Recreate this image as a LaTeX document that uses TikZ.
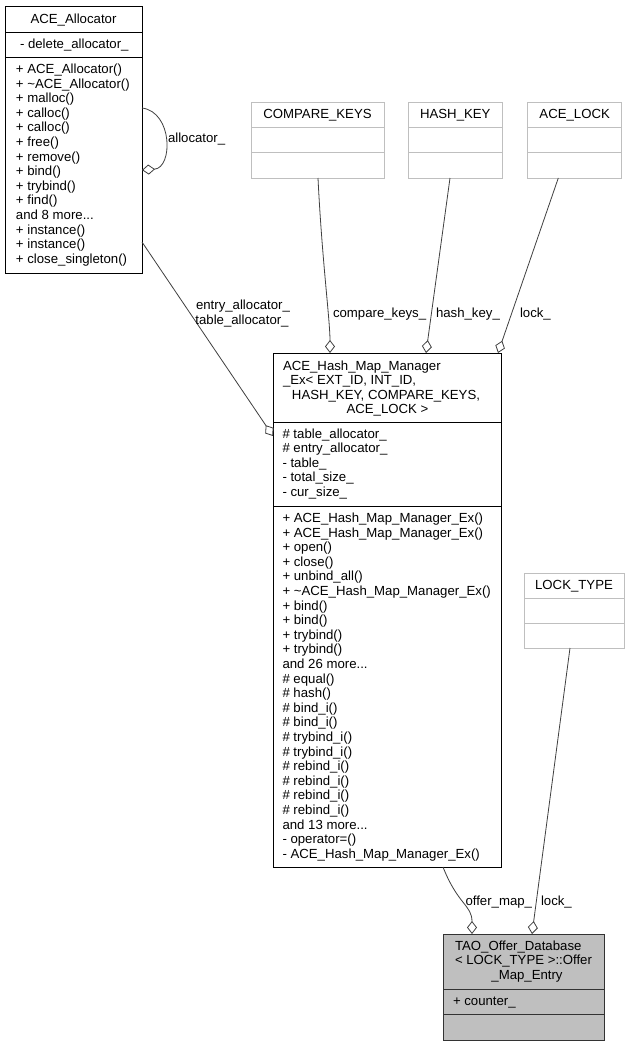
\documentclass[tikz,border=0pt]{standalone}
\usepackage{fontspec}
\setmainfont{Liberation Sans}
\usetikzlibrary{arrows.meta,calc}
\newcommand\mydots{...}
\begin{document}
\begin{tikzpicture}[x=1pt,y=-1pt,
  every node/.style={font=\fontsize{13.2}{14.6}\selectfont, inner sep=0pt, outer sep=0pt},
  blackbox/.style={draw=black, line width=1pt, rectangle},
  graybox/.style={draw=black!25, line width=1pt, rectangle},
  curbox/.style={draw=black!80, fill=black!25, line width=1pt, rectangle},
  blackdiv/.style={draw=black, line width=1pt},
  graydiv/.style={draw=black!25, line width=1pt},
  curdiv/.style={draw=black!80, line width=1pt},
  mem/.style={anchor=base west},
  ttl/.style={anchor=base},
  lbl/.style={anchor=base west},
  assoc/.style={draw=black!75, line width=0.8pt, -{Diamond[length=13pt,width=10pt,fill=white]}}]
\useasboundingbox (0,0) rectangle (631,1045);
\fill[white] (0,0) rectangle (631,1045);

% ---------- boxes ----------
\node[blackbox, minimum width=137pt, minimum height=267pt] (alloc) at (73.5,139.5) {};
\node[graybox, minimum width=133pt, minimum height=76pt] (ck) at (317.5,140) {};
\node[graybox, minimum width=94pt, minimum height=76pt] (hk) at (455.3,140) {};
\node[graybox, minimum width=94pt, minimum height=76pt] (al) at (574.7,140) {};
\node[blackbox, minimum width=228pt, minimum height=514pt] (hm) at (387,610) {};
\node[graybox, minimum width=100pt, minimum height=75pt] (lt) at (574,610.5) {};
\node[curbox, minimum width=161pt, minimum height=106pt] (of) at (523.5,987) {};

% ---------- dividers ----------
\draw[blackdiv] (alloc.west |- 0,32) -- (alloc.east |- 0,32);
\draw[blackdiv] (alloc.west |- 0,57) -- (alloc.east |- 0,57);
\foreach \b in {ck,hk,al}{
  \draw[graydiv] (\b.west |- 0,127) -- (\b.east |- 0,127);
  \draw[graydiv] (\b.west |- 0,152.5) -- (\b.east |- 0,152.5);
}
\draw[graydiv] (lt.west |- 0,598.5) -- (lt.east |- 0,598.5);
\draw[graydiv] (lt.west |- 0,623.5) -- (lt.east |- 0,623.5);
\draw[blackdiv] (hm.west |- 0,422) -- (hm.east |- 0,422);
\draw[blackdiv] (hm.west |- 0,506) -- (hm.east |- 0,506);
\draw[curdiv] (of.west |- 0,989) -- (of.east |- 0,989);
\draw[curdiv] (of.west |- 0,1014) -- (of.east |- 0,1014);

% ---------- ACE_Allocator ----------
\node[ttl] (alloc-t) at (73.5,23) {ACE\_Allocator};
\node[mem] (alloc-a1) at (20,48) {- delete\_allocator\_};
\foreach [count=\i] \t in {{+ ACE\_Allocator()},{+ \textasciitilde ACE\_Allocator()},{+ malloc()},{+ calloc()},{+ calloc()},{+ free()},{+ remove()},{+ bind()},{+ trybind()},{+ find()},{and 8 more\mydots},{+ instance()},{+ instance()},{+ close\_singleton()}}
  \node[mem] (alloc-m\i) at (16,{73.5+(\i-1)*14.6}) {\t};

% ---------- template parameter boxes ----------
\node[ttl] (ck-t) at (317.5,118.5) {COMPARE\_KEYS};
\node[ttl] (hk-t) at (455.3,118.5) {HASH\_KEY};
\node[ttl] (al-t) at (574.7,118.5) {ACE\_LOCK};
\node[ttl] (lt-t) at (574,589.5) {LOCK\_TYPE};

% ---------- ACE_Hash_Map_Manager_Ex ----------
\node[mem] (hm-t1) at (283,370) {ACE\_Hash\_Map\_Manager};
\node[mem] (hm-t2) at (283,384.6) {\_Ex< EXT\_ID, INT\_ID,};
\node[ttl] (hm-t3) at (386,399.2) {HASH\_KEY, COMPARE\_KEYS,};
\node[ttl] (hm-t4) at (387.5,413.8) {ACE\_LOCK >};
\foreach [count=\i] \t in {{\# table\_allocator\_},{\# entry\_allocator\_},{- table\_},{- total\_size\_},{- cur\_size\_}}
  \node[mem] (hm-a\i) at (282.5,{438+(\i-1)*14.6}) {\t};
\foreach [count=\i] \t in {{+ ACE\_Hash\_Map\_Manager\_Ex()},{+ ACE\_Hash\_Map\_Manager\_Ex()},{+ open()},{+ close()},{+ unbind\_all()},{+ \textasciitilde ACE\_Hash\_Map\_Manager\_Ex()},{+ bind()},{+ bind()},{+ trybind()},{+ trybind()},{and 26 more\mydots},{\# equal()},{\# hash()},{\# bind\_i()},{\# bind\_i()},{\# trybind\_i()},{\# trybind\_i()},{\# rebind\_i()},{\# rebind\_i()},{\# rebind\_i()},{\# rebind\_i()},{and 13 more\mydots},{- operator=()},{- ACE\_Hash\_Map\_Manager\_Ex()}}
  \node[mem] (hm-m\i) at (282.5,{522.5+(\i-1)*14.6}) {\t};

% ---------- TAO_Offer_Database ----------
\node[mem] (of-t1) at (455,950) {TAO\_Offer\_Database};
\node[mem] (of-t2) at (455,964.5) {< LOCK\_TYPE >::Offer};
\node[ttl] (of-t3) at (527,979) {\_Map\_Entry};
\node[mem] (of-a1) at (453,1005) {+ counter\_};

% ---------- connectors ----------
\draw[assoc] ([yshift=31.5pt]alloc.east) .. controls (173,112) and (173,168) .. ([yshift=-30.5pt]alloc.east);
\node[lbl] (l-alloc) at (168,142) {allocator\_};

\draw[assoc] ([yshift=-102.5pt]alloc.east) -- ([yshift=174pt]hm.west);
\node[ttl] (l-entry) at (243,309) {entry\_allocator\_};
\node[ttl] (l-table) at (242,324) {table\_allocator\_};

\draw[assoc] ([xshift=0.5pt]ck.south) .. controls (322,260) and (330,320) .. ([xshift=-57pt]hm.north);
\node[lbl] (l-ck) at (333,317) {compare\_keys\_};

\draw[assoc] ([xshift=-5.3pt]hk.south) -- ([xshift=39pt]hm.north);
\node[lbl] (l-hk) at (436,317) {hash\_key\_};

\draw[assoc] ([xshift=-16.4pt]al.south) -- ([xshift=111pt]hm.north);
\node[lbl] (l-al) at (520,317) {lock\_};

\draw[assoc] ([xshift=56pt]hm.south) .. controls (458,905) and (472,905) .. ([xshift=-51.5pt]of.north);
\node[lbl] (l-om) at (465.5,905) {offer\_map\_};

\draw[assoc] ([xshift=-4pt]lt.south) -- ([xshift=8.5pt]of.north);
\node[lbl] (l-lk) at (541,905) {lock\_};
\end{tikzpicture}
\end{document}
